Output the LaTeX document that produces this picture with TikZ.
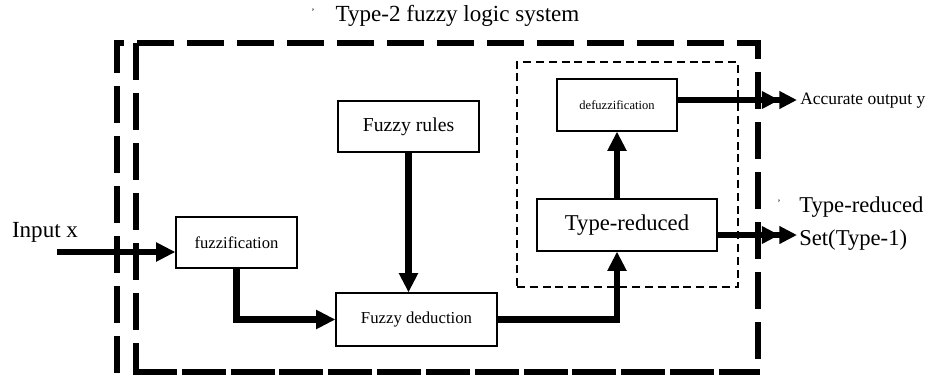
\documentclass[tikz,border=0pt]{standalone}
\usepackage{fontspec}
\setmainfont{Liberation Serif}
\usetikzlibrary{arrows.meta}

\begin{document}
\begin{tikzpicture}[x=0.025cm,y=-0.025cm,
                    block/.style={rectangle,draw=black,line width=0.8pt,fill=white,inner sep=0pt},
                    flow/.style={line width=4.3pt,-{Triangle[length=0.48cm,width=0.45cm]}},
                    dflow/.style={line width=4.3pt,-{Triangle[length=0.44cm,width=0.42cm]Triangle[length=0.44cm,width=0.42cm]}},
                    frame/.style={line width=4.3pt,dash pattern=on 0.92cm off 0.33cm}
                ]
                    \useasboundingbox (0,0) rectangle (927,376);

                    \draw[frame] (117,373) -- (117,43) -- (758,43) -- (758,372);
                    \draw[frame] (136,43) -- (136,372);
                    \draw[line width=4.3pt,dash pattern=on 1.1cm off 0.12cm] (133,372) -- (760,372);

                    \node[draw=black,line width=1pt,dash pattern=on 0.2cm off 0.12cm,
                          minimum width=5.525cm,minimum height=5.625cm] (reducer) at (627.5,174.5) { };

                    \node[font=\fontsize{16.4}{20}\selectfont] (title) at (457.5,16) {Type-2 fuzzy logic system};
                    \node[font=\scriptsize] (tick1) at (313,12) {'};

                    \node[block,minimum width=3.525cm,minimum height=1.275cm,font=\fontsize{14}{16}\selectfont] (rules) at (408.5,126.5) {Fuzzy rules};
                    \node[block,minimum width=3.025cm,minimum height=1.275cm,font=\fontsize{11.8}{14}\selectfont] (fuzzif) at (236.5,242.5) {fuzzification};
                    \node[block,minimum width=4.025cm,minimum height=1.325cm,font=\fontsize{11.9}{14}\selectfont] (deduction) at (416.5,319.5) {Fuzzy deduction};
                    \node[block,minimum width=4.5cm,minimum height=1.3cm,font=\fontsize{16.1}{19}\selectfont] (typered) at (627,225) {Type-reduced};
                    \node[block,minimum width=3cm,minimum height=1.3cm,font=\fontsize{8.9}{10}\selectfont] (defuzz) at (617,105) {defuzzification};

                    \coordinate (inx) at (57,252);
                    \coordinate (outy) at (797,100);
                    \coordinate (outset) at (797,235);

                    \node[font=\fontsize{16.4}{20}\selectfont] (inlabel) at (45,232) {Input x};
                    \node[anchor=west,inner sep=0pt,font=\fontsize{12.4}{14}\selectfont] (outlabel) at (800,101) {Accurate output y};
                    \node[anchor=west,inner sep=0pt,align=left,font=\fontsize{16.1}{23.5}\selectfont] (setlabel) at (799,223.5) {Type-reduced\\Set(Type-1)};
                    \node[font=\scriptsize] (tick2) at (779,203) {'};

                    \draw[flow] (inx) -- (inx -| fuzzif.west);
                    \draw[flow] (fuzzif.south) |- (deduction.west);
                    \draw[flow] (rules.south) -- (rules.south |- deduction.north);
                    \draw[flow] (deduction.east) -| (defuzz.south |- typered.south);
                    \draw[flow] (defuzz.south |- typered.north) -- (defuzz.south);
                    \draw[dflow] (defuzz.east |- outy) -- (outy);
                    \draw[dflow] (typered.east |- outset) -- (outset);

                \end{tikzpicture}
\end{document}
